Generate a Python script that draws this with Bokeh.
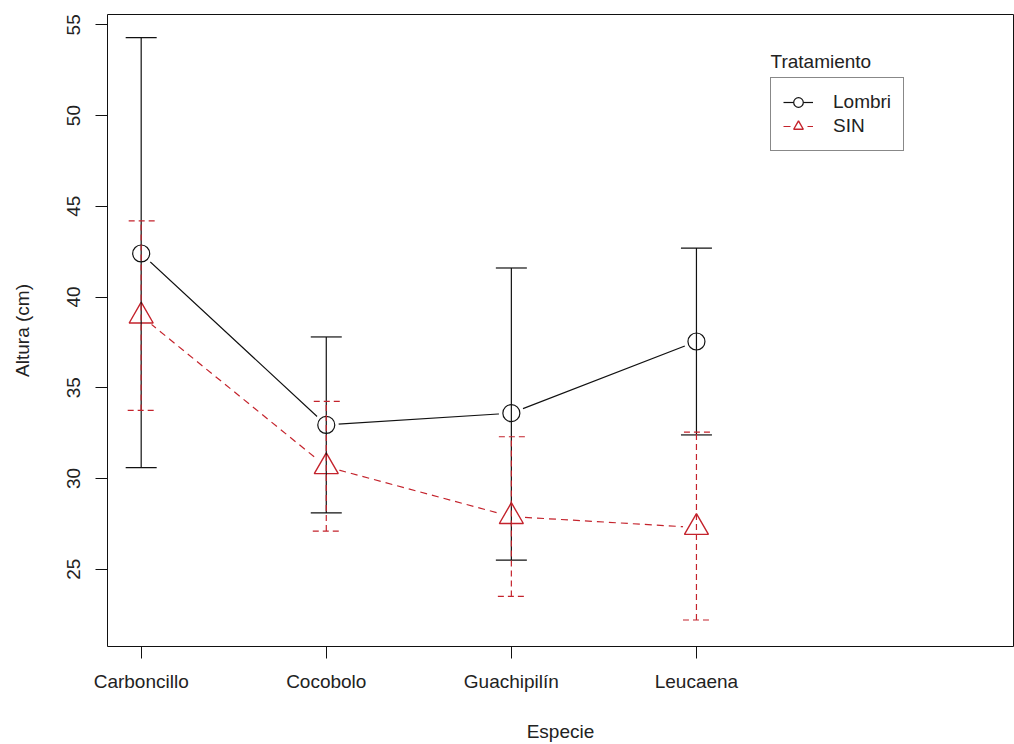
from bokeh.plotting import figure
from bokeh.models import (ColumnDataSource, Range1d, FixedTicker, Whisker, TeeHead,
                          Legend, LegendItem, Label)
from bokeh.embed import file_html
from bokeh.resources import INLINE

# Mean plant height (cm) per species and treatment, with interval limits
especies = ["Carboncillo", "Cocobolo", "Guachipilín", "Leucaena"]
x_pos = [1, 2, 3, 4]

lombri_media = [42.4, 32.95, 33.6, 37.55]
lombri_sup = [54.3, 37.8, 41.6, 42.7]
lombri_inf = [30.6, 28.1, 25.5, 32.4]

sin_media = [38.95, 30.65, 27.9, 27.3]
sin_sup = [44.2, 34.25, 32.3, 32.55]
sin_inf = [33.75, 27.1, 23.5, 22.2]

y_ticks = [25, 30, 35, 40, 45, 50, 55]

FONT = "Liberation Sans"
FS = "19px"
NEGRO = "#111111"
ROJO = "#C4232C"

src_l = ColumnDataSource(dict(x=x_pos, y=lombri_media, up=lombri_sup, lo=lombri_inf))
src_s = ColumnDataSource(dict(x=x_pos, y=sin_media, up=sin_sup, lo=sin_inf))

p = figure(width=1014, height=744, output_backend="svg", toolbar_location=None,
           x_range=Range1d(0.818, 5.713), y_range=Range1d(20.74, 55.57),
           min_border_left=107, min_border_right=1, min_border_top=14,
           min_border_bottom=98)
p.background_fill_color = "white"
p.border_fill_color = "white"
p.outline_line_color = NEGRO
p.outline_line_width = 1
p.xgrid.visible = False
p.ygrid.visible = False

# axes
for ax in (p.xaxis[0], p.yaxis[0]):
    ax.axis_line_color = None
    ax.major_tick_in = 0
    ax.major_tick_out = 12
    ax.major_tick_line_color = NEGRO
    ax.minor_tick_line_color = None
    ax.major_label_text_font = FONT
    ax.major_label_text_font_size = FS
    ax.major_label_text_color = "#222222"
    ax.axis_label_text_font = FONT
    ax.axis_label_text_font_size = FS
    ax.axis_label_text_font_style = "normal"
    ax.axis_label_text_color = "#222222"

p.xaxis.ticker = FixedTicker(ticks=x_pos)
p.xaxis.major_label_overrides = {x: e for x, e in zip(x_pos, especies)}
p.xaxis.axis_label = "Especie"
p.xaxis.major_label_standoff = 12
p.xaxis.axis_label_standoff = 26

p.yaxis.ticker = FixedTicker(ticks=y_ticks)
p.yaxis.major_label_orientation = "vertical"
p.yaxis.axis_label = "Altura (cm)"
p.yaxis.major_label_standoff = 15
p.yaxis.axis_label_standoff = 32

# connecting lines
l_line = p.line("x", "y", source=src_l, line_color=NEGRO, line_width=1.2)
s_line = p.line("x", "y", source=src_s, line_color=ROJO, line_width=1.2, line_dash="7 5")

# white gaps around the points (lines stop short of the symbols)
l_gap = p.scatter("x", "y", source=src_l, marker="circle", size=25,
                  fill_color="white", line_color=None)
s_gap = p.scatter("x", "y", source=src_s, marker="circle", size=27,
                  fill_color="white", line_color=None)

# interval bars, drawn above the gaps so the stems run through the symbols
p.add_layout(Whisker(source=src_l, base="x", upper="up", lower="lo", level="overlay",
                     line_color=NEGRO, line_width=1.2,
                     upper_head=TeeHead(size=31, line_color=NEGRO, line_width=1.2),
                     lower_head=TeeHead(size=31, line_color=NEGRO, line_width=1.2)))
p.add_layout(Whisker(source=src_s, base="x", upper="up", lower="lo", level="overlay",
                     line_color=ROJO, line_width=1.2, line_dash="6 4",
                     upper_head=TeeHead(size=27, line_color=ROJO, line_width=1.2, line_dash="6 4"),
                     lower_head=TeeHead(size=27, line_color=ROJO, line_width=1.2, line_dash="6 4")))

# symbols
l_pts = p.scatter("x", "y", source=src_l, marker="circle", size=17,
                  fill_color=None, line_color=NEGRO, line_width=1.2)
s_pts = p.scatter("x", "y", source=src_s, marker="triangle", size=24,
                  fill_color=None, line_color=ROJO, line_width=1.4)

legend = Legend(items=[LegendItem(label="Lombri", renderers=[l_line, l_gap, l_pts]),
                       LegendItem(label="SIN", renderers=[s_line, s_gap, s_pts])],
                location=(663, 495), orientation="vertical",
                label_text_font=FONT, label_text_font_size=FS,
                label_text_color="#222222",
                glyph_width=30, glyph_height=24, label_height=24,
                label_standoff=20, padding=12, spacing=0, margin=0,
                border_line_color=NEGRO, border_line_width=1.2,
                background_fill_color="white", background_fill_alpha=1.0)
p.add_layout(legend, "center")

p.add_layout(Label(x=663, y=585, x_units="screen", y_units="screen",
                   text="Tratamiento", text_font=FONT, text_font_size=FS,
                   text_color="#222222", text_baseline="middle"))

open("out.html", "w").write(file_html(p, INLINE))
